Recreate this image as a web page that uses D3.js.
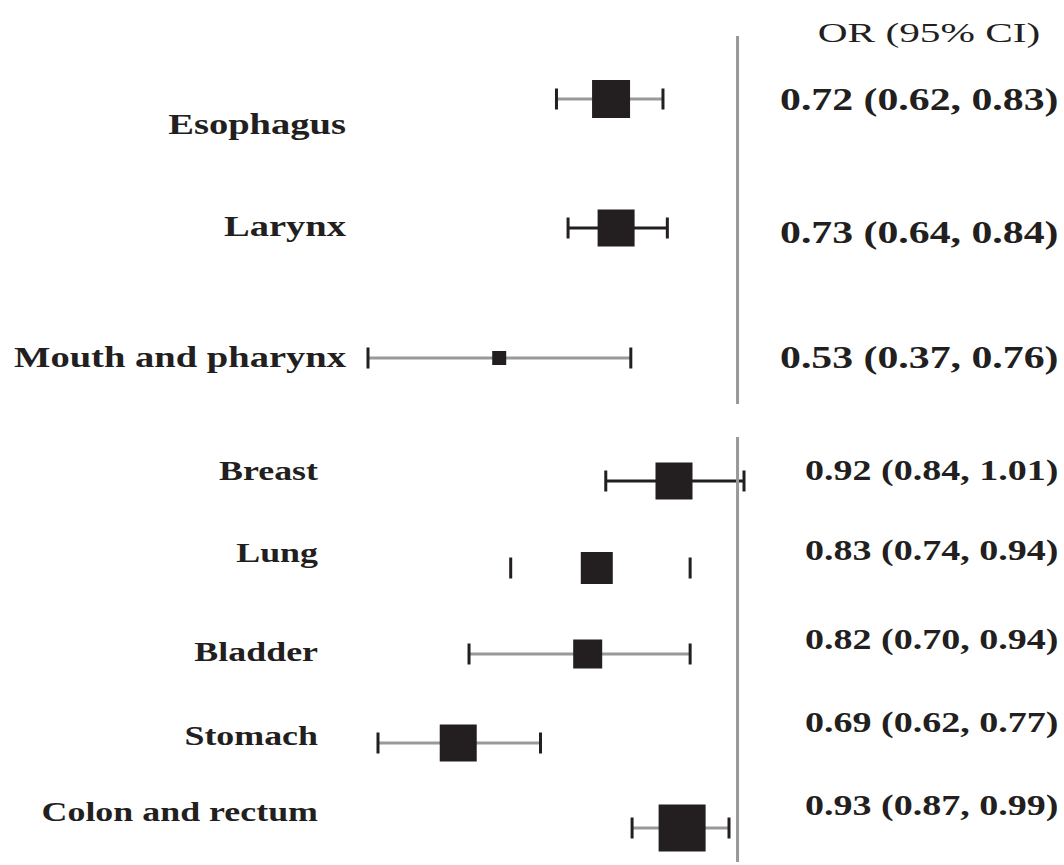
<!DOCTYPE html>
<html>
<head>
<meta charset="utf-8">
<script src="https://cdn.jsdelivr.net/npm/d3@7"></script>
<style>
  html, body { margin: 0; padding: 0; background: #fff; }
  svg { display: block; }
  text { font-family: "Liberation Serif", "Times New Roman", serif; fill: #231f20; }
</style>
</head>
<body>
<svg id="chart" width="1064" height="865"></svg>
<script>
// Aerodigestive cancers (upper panel)
const topSites  = ["Esophagus", "Larynx", "Mouth and pharynx"];
const topOR     = [0.72, 0.73, 0.53];
const topLower  = [0.62, 0.64, 0.37];
const topUpper  = [0.83, 0.84, 0.76];
const topWeight = [38, 37, 14];

// Other cancer sites (lower panel)
const botSites  = ["Breast", "Lung", "Bladder", "Stomach", "Colon and rectum"];
const botOR     = [0.92, 0.83, 0.82, 0.69, 0.93];
const botLower  = [0.84, 0.74, 0.70, 0.62, 0.87];
const botUpper  = [1.01, 0.94, 0.94, 0.77, 0.99];
const botWeight = [37, 32, 29, 37, 47];

const headerText = "OR (95% CI)";

const svg = d3.select("#chart");
const ink = "#231f20";
const grey = "#999999";

// Each panel has its own log-scaled OR axis
const xTop = d3.scaleLog().domain([0.37, 1]).range([368, 731]);
const xBot = d3.scaleLog().domain([0.62, 1.01]).range([378, 744]);
const nullX = xBot(1) + 1;

// Row placement
const topRowY = [99, 228, 358];
const botRowY = [481, 568, 654, 743, 828];

// Whisker line style per site
const whiskerColor = {
  "Esophagus": grey, "Larynx": ink, "Mouth and pharynx": grey,
  "Breast": ink, "Lung": "none", "Bladder": grey, "Stomach": grey, "Colon and rectum": grey
};

function fmt(v) { return d3.format(".2f")(v); }

function stretchedText(g, x, y, str, size, sx, anchor, weight) {
  g.append("text")
    .attr("transform", `translate(${x},${y}) scale(${sx},1)`)
    .attr("text-anchor", anchor)
    .attr("dominant-baseline", "central")
    .style("font-size", size + "px")
    .style("font-weight", weight)
    .text(str);
}

function drawPanel(sites, or, lo, hi, wt, x, rowY, opts) {
  const g = svg.append("g");
  sites.forEach((s, i) => {
    const y = rowY[i];
    const col = whiskerColor[s];
    if (col !== "none") {
      g.append("line")
        .attr("x1", x(lo[i])).attr("x2", x(hi[i]))
        .attr("y1", y).attr("y2", y)
        .attr("stroke", col).attr("stroke-width", 3);
    }
    [lo[i], hi[i]].forEach(v => {
      g.append("rect")
        .attr("x", x(v) - 1.5).attr("y", y - 10.5)
        .attr("width", 3).attr("height", 21)
        .attr("fill", ink);
    });
    const w = wt[i];
    g.append("rect")
      .attr("x", x(or[i]) - w / 2).attr("y", y - w / 2)
      .attr("width", w).attr("height", w)
      .attr("fill", ink);

    stretchedText(g, opts.labelX, opts.labelY[i], s, opts.size, opts.sx, "end", "bold");
    stretchedText(g, opts.textX, opts.textY[i],
      `${fmt(or[i])} (${fmt(lo[i])}, ${fmt(hi[i])})`, opts.size2, opts.sx2, "start", "bold");
  });
}

drawPanel(topSites, topOR, topLower, topUpper, topWeight, xTop, topRowY, {
  labelX: 346, labelY: [124, 226, 357], size: 30, sx: 1.285,
  textX: 780, textY: [99, 232, 357], size2: 32, sx2: 1.306
});

drawPanel(botSites, botOR, botLower, botUpper, botWeight, xBot, botRowY, {
  labelX: 318, labelY: [471, 553, 652, 736, 812], size: 27.5, sx: 1.305,
  textX: 805, textY: [470, 550, 639, 722, 805], size2: 29, sx2: 1.312
});

// Null-effect reference lines
svg.append("line").attr("x1", nullX).attr("x2", nullX).attr("y1", 36).attr("y2", 404)
  .attr("stroke", grey).attr("stroke-width", 3);
svg.append("line").attr("x1", nullX).attr("x2", nullX).attr("y1", 437).attr("y2", 862)
  .attr("stroke", grey).attr("stroke-width", 3);

// Column header
stretchedText(svg, 929, 33, headerText, 27, 1.53, "middle", "normal");
</script>
</body>
</html>
